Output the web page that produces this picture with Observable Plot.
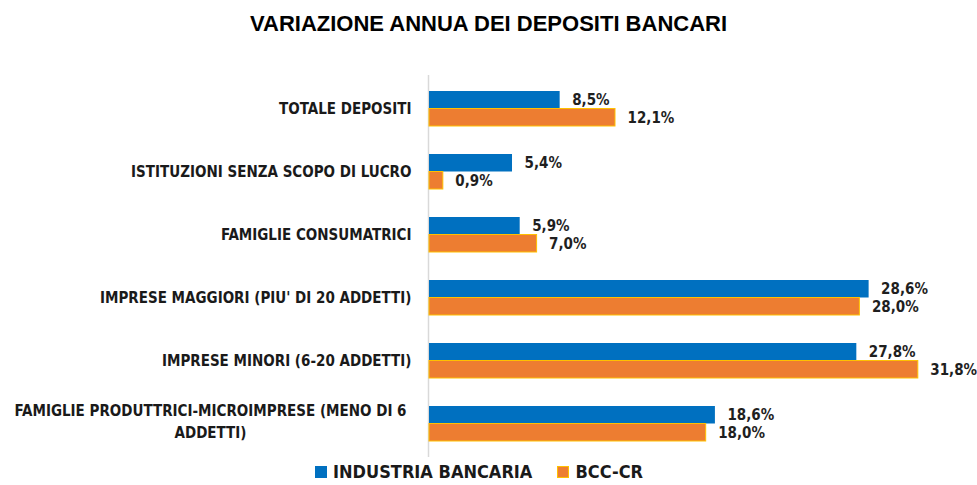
<!DOCTYPE html>
<html>
<head>
<meta charset="utf-8">
<script src="https://cdn.jsdelivr.net/npm/d3@7"></script>
<script src="https://cdn.jsdelivr.net/npm/@observablehq/plot@0.6"></script>
<style>
  html, body { margin: 0; padding: 0; background: #fff; }
  #wrap { position: relative; width: 977px; height: 485px; }
  #title { height: 45px; box-sizing: border-box; padding-top: 13px; text-align: center;
    font-family: "Liberation Sans", Arial, sans-serif; font-weight: bold; font-size: 22px; line-height: 22px; color: #000; }
  #chart svg { display: block; }
  #legend { position: absolute; left: 315px; top: 461px; display: flex; align-items: center;
    font-family: "Liberation Sans Narrow", "DejaVu Sans Condensed", sans-serif; font-weight: bold; font-size: 18px; color: #1a1a1a; }
  .sw { width: 12px; height: 12px; box-sizing: border-box; display: inline-block; margin-right: 6px; }
  .item { display: flex; align-items: center; margin-right: 25px; }
</style>
</head>
<body>
<div id="wrap">
  <div id="title">VARIAZIONE ANNUA DEI DEPOSITI BANCARI</div>
  <div id="chart"></div>
  <div id="legend"></div>
</div>
<script>
const categories = [
  "TOTALE DEPOSITI",
  "ISTITUZIONI SENZA SCOPO DI LUCRO",
  "FAMIGLIE CONSUMATRICI",
  "IMPRESE MAGGIORI (PIU' DI 20 ADDETTI)",
  "IMPRESE MINORI (6-20 ADDETTI)",
  "FAMIGLIE PRODUTTRICI-MICROIMPRESE (MENO DI 6 ADDETTI)"
];
const industriaBancaria = [8.5, 5.4, 5.9, 28.6, 27.8, 18.6];
const bccCr = [12.1, 0.9, 7.0, 28.0, 31.8, 18.0];
const seriesNames = ["INDUSTRIA BANCARIA", "BCC-CR"];
const seriesColors = ["#0070C0", "#ED7D31"];
const seriesStrokes = ["#0070C0", "#FFC000"];

const blueData = categories.map((c, i) => ({category: c, value: industriaBancaria[i]}));
const orangeData = categories.map((c, i) => ({category: c, value: bccCr[i]}));
const fmt = v => v.toFixed(1).replace(".", ",") + "%";
const labelFont = "'Liberation Sans Narrow', 'DejaVu Sans Condensed', sans-serif";
const wrapped = categories[categories.length - 1];
const singles = categories.slice(0, -1);
const half = 17.5;

const chart = Plot.plot({
  width: 977,
  height: 415,
  marginLeft: 429,
  marginRight: 10,
  marginTop: 31,
  marginBottom: 4,
  x: {domain: [0, 35], axis: null},
  y: {domain: categories, axis: null, paddingInner: 0.4474, paddingOuter: 0.2237},
  marks: [
    Plot.ruleX([0], {stroke: "#d9d9d9", strokeWidth: 1.5, dx: -1, insetTop: -1, insetBottom: -1}),
    Plot.barX(blueData, {x: "value", y: "category", fill: seriesColors[0], insetBottom: half}),
    Plot.barX(orangeData, {x: "value", y: "category", fill: seriesColors[1], stroke: seriesStrokes[1], strokeWidth: 1, insetTop: half}),
    Plot.text(blueData, {x: "value", y: "category", text: d => fmt(d.value), dx: 12, dy: -half / 2,
      textAnchor: "start", fontFamily: labelFont, fontWeight: "bold", fontSize: 15, fill: "#1f1f1f"}),
    Plot.text(orangeData, {x: "value", y: "category", text: d => fmt(d.value), dx: 12, dy: half / 2,
      textAnchor: "start", fontFamily: labelFont, fontWeight: "bold", fontSize: 15, fill: "#1f1f1f"}),
    Plot.text(singles, {y: d => d, frameAnchor: "left", textAnchor: "end", dx: -18,
      fontFamily: labelFont, fontWeight: "bold", fontSize: 15, fill: "#1a1a1a"}),
    Plot.text([wrapped], {y: d => d, frameAnchor: "left", textAnchor: "middle", dx: -219, dy: -4,
      text: d => d.replace(" ADDETTI)", "\nADDETTI)"), lineHeight: 1.45,
      fontFamily: labelFont, fontWeight: "bold", fontSize: 15, fill: "#1a1a1a"})
  ]
});
document.getElementById("chart").appendChild(chart);

const legend = document.getElementById("legend");
seriesNames.forEach((name, i) => {
  const item = document.createElement("div");
  item.className = "item";
  const sw = document.createElement("span");
  sw.className = "sw";
  sw.style.background = seriesColors[i];
  sw.style.border = "1px solid " + seriesStrokes[i];
  item.appendChild(sw);
  const t = document.createElement("span");
  t.textContent = name;
  item.appendChild(t);
  legend.appendChild(item);
});
</script>
</body>
</html>
